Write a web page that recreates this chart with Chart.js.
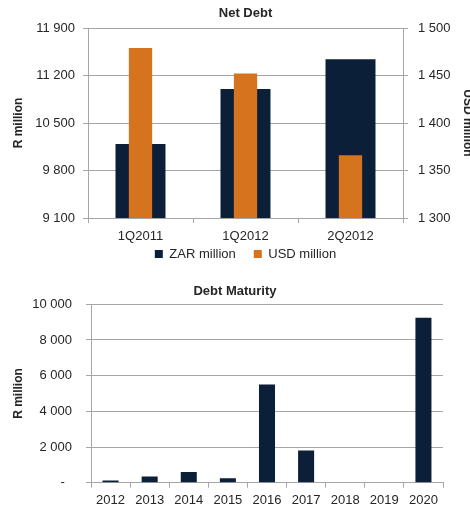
<!DOCTYPE html>
<html>
<head>
<meta charset="utf-8">
<script src="https://cdn.jsdelivr.net/npm/chart.js@4.4.1/dist/chart.umd.min.js"></script>
<style>
  body { margin: 0; background: #ffffff; }
  #wrap { position: relative; width: 470px; height: 508px; overflow: hidden; }
  canvas { position: absolute; left: 0; }
  #netDebt { top: 0; }
  #maturity { top: 262px; }
</style>
</head>
<body>
<div id="wrap">
  <canvas id="netDebt" width="470" height="284"></canvas>
  <canvas id="maturity" width="470" height="246"></canvas>
</div>
<script>
// Net debt by quarter
const quarters = ['1Q2011', '1Q2012', '2Q2012'];
const zarNetDebt = [10190, 11000, 11440];
const usdNetDebt = [1479, 1452, 1366];

// Debt maturity profile
const years = ['2012', '2013', '2014', '2015', '2016', '2017', '2018', '2019', '2020'];
const maturities = [120, 350, 600, 250, 5500, 1800, 0, 0, 9250];

const NAVY = '#0b1f38';
const ORANGE = '#d5731f';
const GRID = '#a6a6a6';

Chart.defaults.font.family = "'Liberation Sans', Arial, sans-serif";
Chart.defaults.font.size = 13;
Chart.defaults.color = '#262626';
Chart.defaults.animation = false;

// thousands with a space, e.g. 11 900
function spaced(v) {
    return String(v).replace(/\B(?=(\d{3})+(?!\d))/g, ' ');
}

// pull the legend up closer to the category labels
const liftLegend = {
    id: 'liftLegend',
    afterLayout(chart, args, opts) {
        const lg = chart.legend;
        if (!lg) return;
        lg.top -= opts.by;
        lg.bottom -= opts.by;
    }
};

const axisTitleFont = { size: 12, weight: 'bold' };

new Chart(document.getElementById('netDebt'), {
    type: 'bar',
    plugins: [liftLegend],
    data: {
        labels: quarters,
        datasets: [
            {
                label: 'ZAR million',
                data: zarNetDebt,
                backgroundColor: NAVY,
                yAxisID: 'y',
                grouped: false,
                order: 1,
                categoryPercentage: 1,
                barPercentage: 0.476
            },
            {
                label: 'USD million',
                data: usdNetDebt,
                backgroundColor: ORANGE,
                yAxisID: 'y1',
                grouped: false,
                order: 0,
                categoryPercentage: 1,
                barPercentage: 0.222
            }
        ]
    },
    options: {
        responsive: false,
        devicePixelRatio: 1,
        layout: { padding: 0 },
        plugins: {
            title: {
                display: true,
                text: 'Net Debt',
                fullSize: false,
                font: { size: 13, weight: 'bold' },
                padding: { top: 6, bottom: 6.4 }
            },
            legend: {
                position: 'bottom',
                fullSize: false,
                labels: {
                    boxWidth: 8,
                    boxHeight: 8,
                    padding: 18,
                    sort: (a, b) => a.datasetIndex - b.datasetIndex
                }
            },
            liftLegend: { by: 13.5 },
            tooltip: { enabled: false }
        },
        scales: {
            x: {
                grid: { offset: true, drawOnChartArea: false, tickLength: 5, color: GRID },
                border: { color: GRID },
                ticks: { padding: 6 },
                afterFit: s => { s.height = 25; }
            },
            y: {
                position: 'left',
                min: 9100,
                max: 11900,
                ticks: { stepSize: 700, padding: 8, callback: v => spaced(v) },
                grid: { color: GRID, tickLength: 5 },
                border: { color: GRID },
                title: { display: true, text: 'R million', font: axisTitleFont, padding: { top: 11, bottom: 0 } },
                afterFit: s => { s.width = 88; }
            },
            y1: {
                position: 'right',
                min: 1300,
                max: 1500,
                ticks: { stepSize: 50, padding: 10, callback: v => spaced(v) },
                grid: { drawOnChartArea: false, color: GRID, tickLength: 5 },
                border: { color: GRID },
                title: { display: true, text: 'USD million', font: axisTitleFont, padding: { top: -5, bottom: 0 } },
                afterFit: s => { s.width = 67; }
            }
        }
    }
});

new Chart(document.getElementById('maturity'), {
    type: 'bar',
    data: {
        labels: years,
        datasets: [{
            label: 'R million',
            data: maturities,
            backgroundColor: NAVY,
            categoryPercentage: 1,
            barPercentage: 0.41
        }]
    },
    options: {
        responsive: false,
        devicePixelRatio: 1,
        layout: { padding: 0 },
        plugins: {
            title: {
                display: true,
                text: 'Debt Maturity',
                font: { size: 13, weight: 'bold' },
                padding: { top: 22, bottom: 4.7 }
            },
            legend: { display: false },
            tooltip: { enabled: false }
        },
        scales: {
            x: {
                grid: { offset: true, drawOnChartArea: false, tickLength: 5, color: GRID },
                border: { color: GRID },
                ticks: { padding: 5 },
                afterFit: s => { s.height = 25.3; }
            },
            y: {
                min: 0,
                max: 10000,
                ticks: { stepSize: 2000, padding: 14, callback: v => (v === 0 ? '-  ' : spaced(v)) },
                grid: { color: GRID, tickLength: 5 },
                border: { color: GRID },
                title: { display: true, text: 'R million', font: axisTitleFont, padding: { top: 11, bottom: 0 } },
                afterFit: s => { s.width = 91; }
            },
            // empty margin on the right, keeps the title centred on the canvas
            gutter: {
                type: 'linear',
                position: 'right',
                ticks: { display: false },
                grid: { display: false },
                border: { display: false },
                afterFit: s => { s.width = 27; }
            }
        }
    }
});
</script>
</body>
</html>
